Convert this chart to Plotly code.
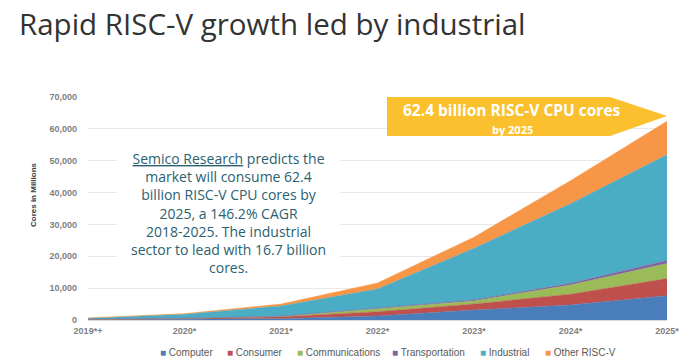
import plotly.graph_objects as go

# ---- data (millions of cores, per segment) ----
years = ["2019*+", "2020*", "2021*", "2022*", "2023*", "2024*", "2025*"]
computer = [100, 200, 400, 1250, 3100, 4700, 7600]
consumer = [100, 250, 600, 1350, 1900, 3400, 5400]
communications = [30, 70, 100, 900, 1000, 2900, 4700]
transportation = [20, 40, 100, 250, 300, 500, 1000]
industrial = [300, 1240, 3200, 5950, 16200, 25000, 33200]
other_riscv = [100, 200, 600, 1900, 3500, 7250, 10500]

series_names = ["Computer", "Consumer", "Communications", "Transportation", "Industrial", "Other RISC-V"]
series_values = [computer, consumer, communications, transportation, industrial, other_riscv]
series_colors = ["#4a7ebb", "#c0504d", "#9bbb59", "#8064a2", "#4bacc6", "#f79646"]

y_ticks = [0, 10000, 20000, 30000, 40000, 50000, 60000, 70000]

W, H = 700, 360
ML, MR, MT, MB = 88, 33, 97, 40
PW, PH = W - ML - MR, H - MT - MB


def px(x):
    return (x - ML) / PW


def py(y):
    return (H - MB - y) / PH


fig = go.Figure()
xs = list(range(len(years)))
for name, vals, col in zip(series_names, series_values, series_colors):
    fig.add_trace(go.Scatter(
        x=xs, y=vals, name=name, mode="lines", stackgroup="one",
        line=dict(width=0.5, color=col), fillcolor=col, showlegend=False,
        hovertemplate=name + ": %{y:,}<extra></extra>",
    ))

tick_font = dict(family="Liberation Sans, Arial, sans-serif", size=9, color="#7f7f7f", weight="bold")

fig.update_layout(
    width=W, height=H,
    margin=dict(l=ML, r=MR, t=MT, b=MB),
    paper_bgcolor="white", plot_bgcolor="white",
    xaxis=dict(
        range=[0, len(years) - 1], tickmode="array", tickvals=xs, ticktext=years,
        showgrid=False, zeroline=False, showline=True, linecolor="#d9d9d9",
        tickfont=tick_font, ticks="", ticklabelstandoff=2,
    ),
    yaxis=dict(
        range=[0, 70000], tickmode="array", tickvals=y_ticks,
        ticktext=[f"{v:,}" for v in y_ticks],
        showgrid=True, gridcolor="#e8e8e8", gridwidth=1, zeroline=False,
        tickfont=tick_font, ticks="", ticklabelstandoff=10,
    ),
    showlegend=False,
)

annotations = []
# Title
annotations.append(dict(
    text="Rapid RISC-V growth led by industrial", xref="paper", yref="paper",
    x=px(17), y=py(24), xanchor="left", yanchor="middle", showarrow=False,
    font=dict(family="Open Sans, sans-serif", size=29.5, color="#333333"),
))
# Y-axis title
annotations.append(dict(
    text="Cores in Millions", xref="paper", yref="paper",
    x=px(33), y=py(195), xanchor="center", yanchor="middle", textangle=-90,
    showarrow=False,
    font=dict(family="Liberation Sans, Arial, sans-serif", size=8, color="#404040", weight="bold"),
))
# Text block
annotations.append(dict(
    text=("<u>Semico Research</u> predicts the<br>market will consume 62.4<br>"
          "billion RISC-V CPU cores by<br>2025, a 146.2% CAGR<br>"
          "2018-2025. The industrial<br>sector to lead with 16.7 billion<br>cores."),
    xref="paper", yref="paper", x=px(228), y=py(213), xanchor="center", yanchor="middle",
    align="center", showarrow=False,
    font=dict(family="Open Sans, sans-serif", size=14, color="#2a6170"),
))
# Banner texts
annotations.append(dict(
    text="<b>62.4 billion RISC-V CPU cores</b>", xref="paper", yref="paper",
    x=px(512), y=py(110), xanchor="center", yanchor="middle", showarrow=False,
    font=dict(family="Open Sans, sans-serif", size=15.5, color="white"),
))
annotations.append(dict(
    text="<b>by 2025</b>", xref="paper", yref="paper",
    x=px(512), y=py(129), xanchor="center", yanchor="middle", showarrow=False,
    font=dict(family="Open Sans, sans-serif", size=11, color="white"),
))
# Legend (square swatch + label)
legend_x = [158, 225, 295, 390, 478, 543]
for name, col, lx in zip(series_names, series_colors, legend_x):
    annotations.append(dict(
        text=f"<span style='color:{col}'>■</span> {name}", xref="paper", yref="paper",
        x=px(lx), y=py(352), xanchor="left", yanchor="middle", showarrow=False,
        font=dict(family="Liberation Sans, Arial, sans-serif", size=10, color="#595959"),
    ))
fig.update_layout(annotations=annotations)

shapes = [
    # white box behind text
    dict(type="rect", xref="paper", yref="paper", x0=px(117), x1=px(340), y0=py(284), y1=py(140),
         fillcolor="white", line=dict(width=0), layer="above"),
    # yellow banner arrow
    dict(type="path", xref="paper", yref="paper",
         path=(f"M {px(387)} {py(97)} L {px(610)} {py(97)} L {px(667)} {py(116)} "
               f"L {px(610)} {py(136)} L {px(387)} {py(136)} Z"),
         fillcolor="#fac02e", line=dict(width=0), layer="above"),
]
fig.update_layout(shapes=shapes)

fig.write_html("out.html", config={"displayModeBar": False},
               post_script="document.body.style.margin='0px';")
